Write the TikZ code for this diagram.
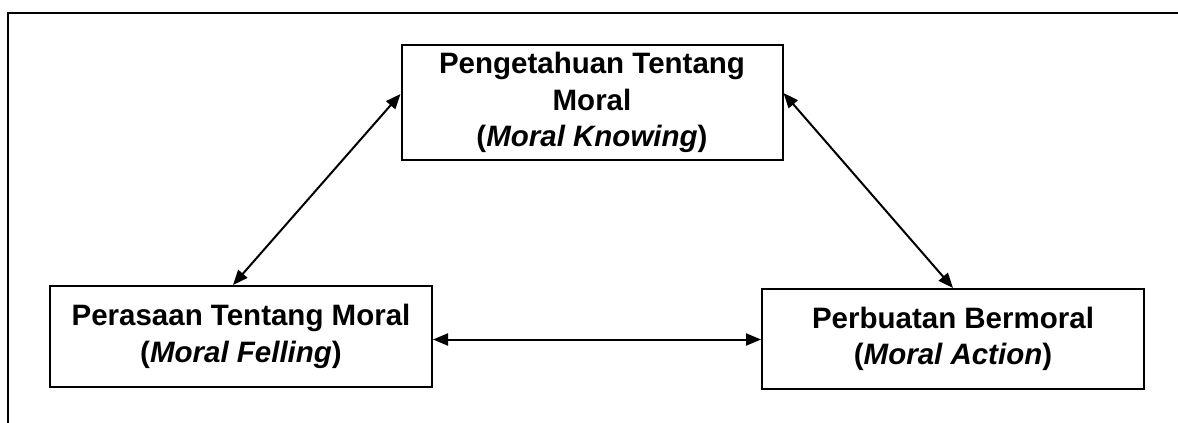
\documentclass[tikz,border=0pt]{standalone}
\usepackage{fontspec}
\setmainfont{Liberation Sans}
\usetikzlibrary{arrows.meta}

\tikzset{
    kotak/.style={draw, line width=2pt, inner sep=0pt, align=center,
        font=\bfseries\fontsize{29.5}{36.5}\selectfont},
    panah/.style={line width=2pt, {Triangle[length=15pt,width=12pt]}-{Triangle[length=15pt,width=12pt]}}
}

\begin{document}
\begin{tikzpicture}[x=1pt, y=-1pt]
    \useasboundingbox (0,0) rectangle (1178,423);
    \draw[line width=2.2pt] (1178,13) -- (8,13) -- (8,423);

    \node[kotak, minimum width=381pt, minimum height=115pt] (know) at (592,102.5)
        {Pengetahuan Tentang\\Moral\\(\textit{Moral Knowing})};
    \node[kotak, minimum width=382pt, minimum height=101pt] (feel) at (241,336.5)
        {Perasaan Tentang Moral\\(\textit{Moral Felling})};
    \node[kotak, minimum width=382pt, minimum height=100pt] (act) at (953,339)
        {Perbuatan Bermoral\\(\textit{Moral Action})};

    \draw[panah] ([xshift=-8pt]feel.north) -- ([yshift=8.5pt]know.west);
    \draw[panah] ([yshift=9.5pt]know.east) -- (act.north);
    \draw[panah] ([yshift=-3pt]feel.east) -- ([yshift=-3pt]feel.east -| act.west);
\end{tikzpicture}
\end{document}
